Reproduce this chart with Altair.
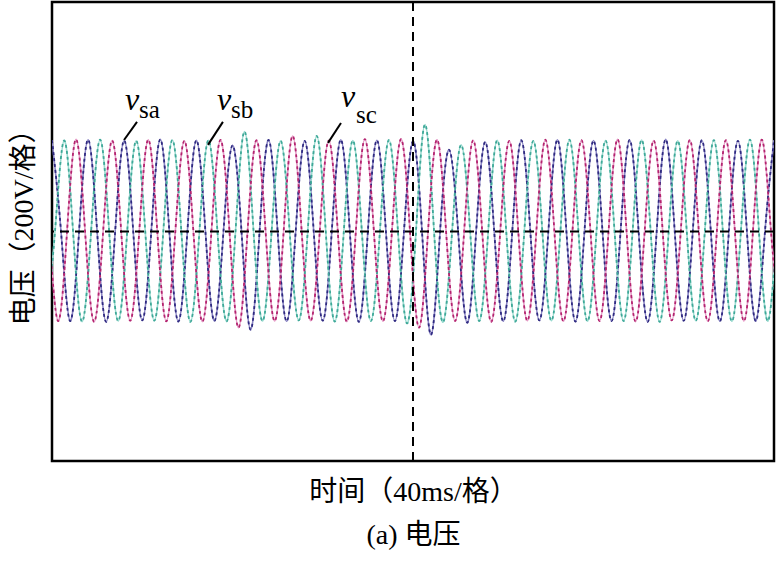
import altair as alt
import pandas as pd

# ---- data (time in ms, voltage in V) ----
# phase a (navy): extrema every 10 ms starting with a peak at t = 0
a_peaks = [318, 320, 317, 321, 318, 300, 319, 316, 320, 318, 315,
           285, 312, 318, 320, 317, 319, 321, 318, 316, 319]
a_troughs = [-312, -315, -310, -314, -312, -342, -313, -311, -315, -312,
             -360, -318, -313, -310, -314, -312, -315, -311, -313, -312]
a_start = 0.0
# phase b (teal): starts with a trough at t = -3.33 ms
b_troughs = [-310, -314, -312, -311, -315, -313, -312, -310, -314, -312, -320,
             -316, -312, -314, -311, -313, -312, -315, -311, -313, -312]
b_peaks = [317, 320, 316, 319, 318, 348, 316, 333, 317, 319, 373,
           302, 318, 316, 320, 317, 319, 316, 318, 320, 317]
b_start = -10.0 / 3
# phase c (magenta): starts with a peak at t = -6.67 ms
c_peaks = [318, 321, 317, 320, 316, 319, 318, 333, 317, 322, 322,
           320, 318, 316, 320, 318, 321, 317, 319, 318, 320]
c_troughs = [-312, -315, -311, -313, -314, -335, -312, -311, -314, -313, -335,
             -312, -315, -311, -313, -312, -314, -310, -313, -312, -314]
c_start = -20.0 / 3

event_time = [200]
zero_level = [0]

# label annotations: (text part, t, v) and leader lines
label_v = [("v", 40.4, 423), ("v", 91.4, 423), ("v", 160.1, 434)]
label_sub = [("sa", 48.2, 397), ("sb", 99.2, 397), ("sc", 168.4, 378)]
leader_t = [47.1, 94.7, 160.1]
leader_t2 = [39.9, 86.4, 152.9]
leader_v = [382, 382, 378]
leader_v2 = [319, 302, 309]


def interleave(first, second):
    out = []
    for i in range(max(len(first), len(second))):
        if i < len(first):
            out.append(first[i])
        if i < len(second):
            out.append(second[i])
    return out


rows = []
for name, start, ext in [("a", a_start, interleave(a_peaks, a_troughs)),
                         ("b", b_start, interleave(b_troughs, b_peaks)),
                         ("c", c_start, interleave(c_peaks, c_troughs))]:
    for i, v in enumerate(ext):
        rows.append({"phase": name, "t": start + 10 * i, "v": v, "o": 2 * i})
        if i < len(ext) - 1:
            rows.append({"phase": name, "t": start + 10 * i + 5, "v": 0, "o": 2 * i + 1})
df = pd.DataFrame(rows)

FONT = "Liberation Serif, Noto Sans CJK SC"

xscale = alt.Scale(domain=[0, 400], nice=False, zero=False)
yscale = alt.Scale(domain=[-800, 800], nice=False, zero=False)

xenc = alt.X("t:Q", scale=xscale,
             axis=alt.Axis(title=["时间（40ms/格）", "(a)  电压"], labels=False, ticks=False,
                           grid=False, domain=False, titleFont=FONT, titleFontSize=28,
                           titleFontWeight="normal", titleColor="black", titlePadding=17,
                           titleLineHeight=43))
yenc = alt.Y("v:Q", scale=yscale,
             axis=alt.Axis(title="电压（200V/格）", labels=False, ticks=False, grid=False,
                           domain=False, titleFont=FONT, titleFontSize=28,
                           titleFontWeight="normal", titleColor="black", titlePadding=14,
                           titleY=218))

light_colors = ["#8a84c4", "#9adbd0", "#e59ac6"]
dark_colors = ["#2f2a80", "#3fa898", "#b3246f"]

light = alt.Chart(df).mark_line(interpolate="natural", strokeWidth=1.6, clip=True).encode(
    x=xenc, y=yenc, order="o:Q",
    color=alt.Color("phase:N", legend=None,
                    scale=alt.Scale(domain=["a", "b", "c"], range=light_colors)))
dark = alt.Chart(df).mark_line(interpolate="natural", strokeWidth=1.8, strokeDash=[3, 3], clip=True).encode(
    x="t:Q", y="v:Q", order="o:Q",
    color=alt.Color("phase:N", legend=None,
                    scale=alt.Scale(domain=["a", "b", "c"], range=dark_colors)))
waves = alt.layer(light, dark).resolve_scale(color="independent")

hline = alt.Chart(pd.DataFrame({"v": zero_level})).mark_rule(
    color="black", strokeWidth=2, strokeDash=[9, 6]).encode(y="v:Q")
vline = alt.Chart(pd.DataFrame({"t": event_time})).mark_rule(
    color="black", strokeWidth=2, strokeDash=[9, 6]).encode(x="t:Q")

lv = pd.DataFrame(label_v, columns=["s", "t", "v"])
ls = pd.DataFrame(label_sub, columns=["s", "t", "v"])
vtext = alt.Chart(lv).mark_text(font="Liberation Serif", fontSize=32, fontStyle="italic",
                                align="left", baseline="alphabetic", color="black").encode(
    x="t:Q", y="v:Q", text="s:N")
stext = alt.Chart(ls).mark_text(font="Liberation Serif", fontSize=25,
                                align="left", baseline="alphabetic", color="black").encode(
    x="t:Q", y="v:Q", text="s:N")
leaders = alt.Chart(pd.DataFrame({"t": leader_t, "t2": leader_t2, "v": leader_v, "v2": leader_v2})).mark_rule(
    color="black", strokeWidth=2).encode(x="t:Q", x2="t2:Q", y="v:Q", y2="v2:Q")

chart = alt.layer(waves, hline, vline, leaders, vtext, stext).resolve_scale(
    color="independent"
).properties(
    width=722, height=459,
    padding={"left": 52, "top": 2, "right": 2, "bottom": 103},
    autosize=alt.AutoSizeParams(type="none"),
    background="white",
).configure_view(stroke="black", strokeWidth=2.5)

chart.save("out.html", embed_options={"renderer": "svg", "actions": False})
